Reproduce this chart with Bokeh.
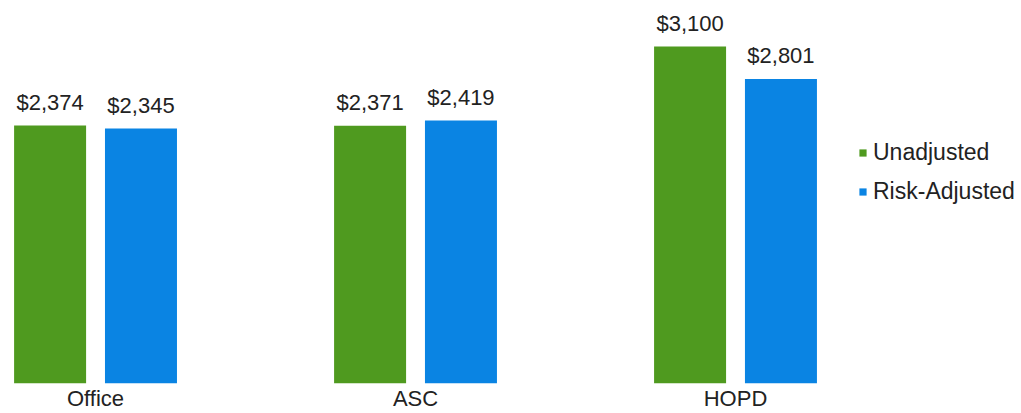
from bokeh.plotting import figure
from bokeh.models import ColumnDataSource, Range1d, FixedTicker, Legend, LegendItem
from bokeh.core.properties import value
from bokeh.embed import file_html
from bokeh.resources import INLINE

categories = ["Office", "ASC", "HOPD"]
unadjusted = [2374, 2371, 3100]
risk_adjusted = [2345, 2419, 2801]
series_names = ["Unadjusted", "Risk-Adjusted"]
colors = ["#4f9a1f", "#0a84e3"]

FONT = "Liberation Sans"
idx = list(range(len(categories)))
off = 0.142
bw = 0.225

p = figure(width=1015, height=413, output_backend="svg", toolbar_location=None,
           x_range=Range1d(-0.297, 2.875), y_range=Range1d(0, 3523),
           min_border_left=0, min_border_right=0, min_border_top=0, min_border_bottom=0)
p.outline_line_color = None
p.grid.visible = False
p.yaxis.visible = False

renderers = []
for vals, dx, col in zip([unadjusted, risk_adjusted], [-off, off], colors):
    src = ColumnDataSource(dict(x=[i + dx for i in idx], top=vals,
                                lab=["${:,}".format(v) for v in vals]))
    r = p.vbar(x="x", top="top", width=bw, bottom=0, source=src,
               fill_color=col, line_color=None)
    renderers.append(r)
    p.text(x="x", y="top", text="lab", source=src, text_align="center",
           text_baseline="alphabetic", y_offset=-23, text_font=value(FONT),
           text_font_size="22px", text_color="#222222")

ax = p.xaxis[0]
ax.ticker = FixedTicker(ticks=idx)
ax.major_label_overrides = {i: c for i, c in zip(idx, categories)}
ax.axis_line_color = None
ax.major_tick_line_color = None
ax.major_tick_out = 0
ax.major_tick_in = 0
ax.minor_tick_line_color = None
ax.major_label_text_font = FONT
ax.major_label_text_font_size = "22px"
ax.major_label_text_color = "#222222"
ax.major_label_standoff = 2

legend = Legend(items=[LegendItem(label=n, renderers=[r]) for n, r in zip(series_names, renderers)],
                location=(858, 178), border_line_color=None, background_fill_alpha=0,
                padding=0, margin=0, glyph_width=9, glyph_height=9, label_standoff=6,
                label_height=22, spacing=12, label_text_font=FONT,
                label_text_font_size="23px", label_text_color="#222222")
p.add_layout(legend)

open("out.html", "w").write(file_html(p, INLINE))
